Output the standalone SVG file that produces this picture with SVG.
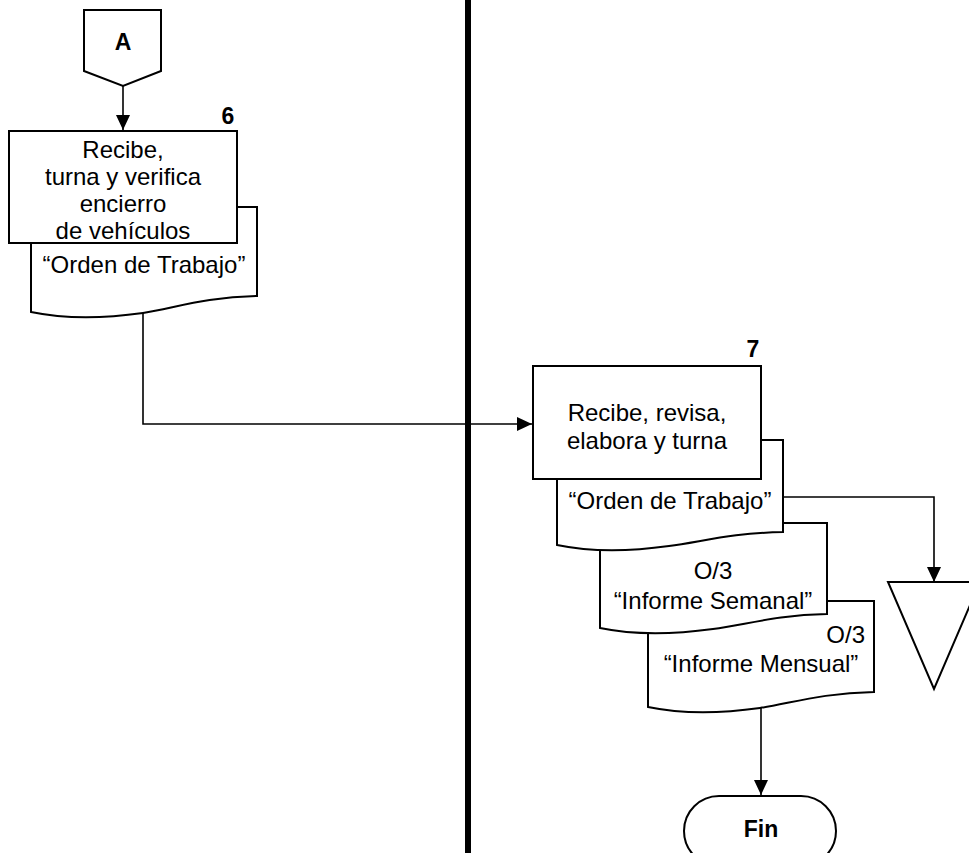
<svg xmlns="http://www.w3.org/2000/svg" width="969" height="853" viewBox="0 0 969 853">
<defs>
<style>
.sh{fill:#fff;stroke:#000;stroke-width:2}
.t{font-family:"Liberation Sans",Arial,sans-serif;font-size:24px;fill:#000;text-anchor:middle}
.b{font-family:"Liberation Sans",Arial,sans-serif;font-size:23px;font-weight:bold;fill:#000;text-anchor:middle}
.c{fill:none;stroke:#000;stroke-width:1.6}
</style>
<marker id="ah" markerUnits="userSpaceOnUse" markerWidth="16" markerHeight="14" refX="15" refY="7" orient="auto">
<path d="M0,0 L15,7 L0,14 Z" fill="#000"/>
</marker>
</defs>
<rect width="969" height="853" fill="#fff"/>
<line x1="468" y1="0" x2="468" y2="853" stroke="#000" stroke-width="6"/>
<g id="connectors">
<path class="c" d="M123,86 V130" marker-end="url(#ah)"/>
<path class="c" d="M143,313 V424 H532" marker-end="url(#ah)"/>
<path class="c" d="M783,497 H934 V582" marker-end="url(#ah)"/>
<path class="c" d="M761,708 V795" marker-end="url(#ah)"/>
</g>
<g id="connectorA">
<path class="sh" d="M84,10 H161 V71 L123,86 L84,71 Z"/>
<text class="b" x="123" y="50">A</text>
</g>
<g id="doc6">
<path class="sh" d="M31,207 H257 V296 C205,297 175,308 143,313 C100,319 60,318 31,312 Z"/>
<text class="t" x="144" y="273">“Orden de Trabajo”</text>
</g>
<g id="step6">
<rect class="sh" x="9" y="131" width="228" height="112"/>
<text class="t" x="123" y="158">Recibe,</text>
<text class="t" x="123" y="185">turna y verifica</text>
<text class="t" x="123" y="212">encierro</text>
<text class="t" x="123" y="239">de vehículos</text>
<text class="b" x="228" y="124">6</text>
</g>
<g id="doc3">
<path class="sh" d="M648,601 H874 V692 C822,693 792,703 760,708 C717,714 677,713 648,707 Z"/>
<text class="t" x="865" y="643" style="text-anchor:end">O/3</text>
<text class="t" x="761" y="672">“Informe Mensual”</text>
</g>
<g id="doc2">
<path class="sh" d="M600,523 H827 V614 C775,615 745,625 713,629 C669,635 629,634 600,628 Z"/>
<text class="t" x="713" y="579">O/3</text>
<text class="t" x="713" y="609">“Informe Semanal”</text>
</g>
<g id="doc7">
<path class="sh" d="M557,440 H783 V532 C731,533 701,542 669,546 C626,552 586,551 557,545 Z"/>
<text class="t" x="670" y="509">“Orden de Trabajo”</text>
</g>
<g id="step7">
<rect class="sh" x="533" y="366" width="228" height="113"/>
<text class="t" x="647" y="421">Recibe, revisa,</text>
<text class="t" x="647" y="449">elabora y turna</text>
<text class="b" x="753" y="357">7</text>
</g>
<g id="archive">
<path class="sh" d="M888,582 H980 L934,689 Z"/>
</g>
<g id="fin">
<rect class="sh" x="684" y="796" width="152" height="70" rx="35" ry="35"/>
<text class="b" x="761" y="837">Fin</text>
</g>
</svg>
